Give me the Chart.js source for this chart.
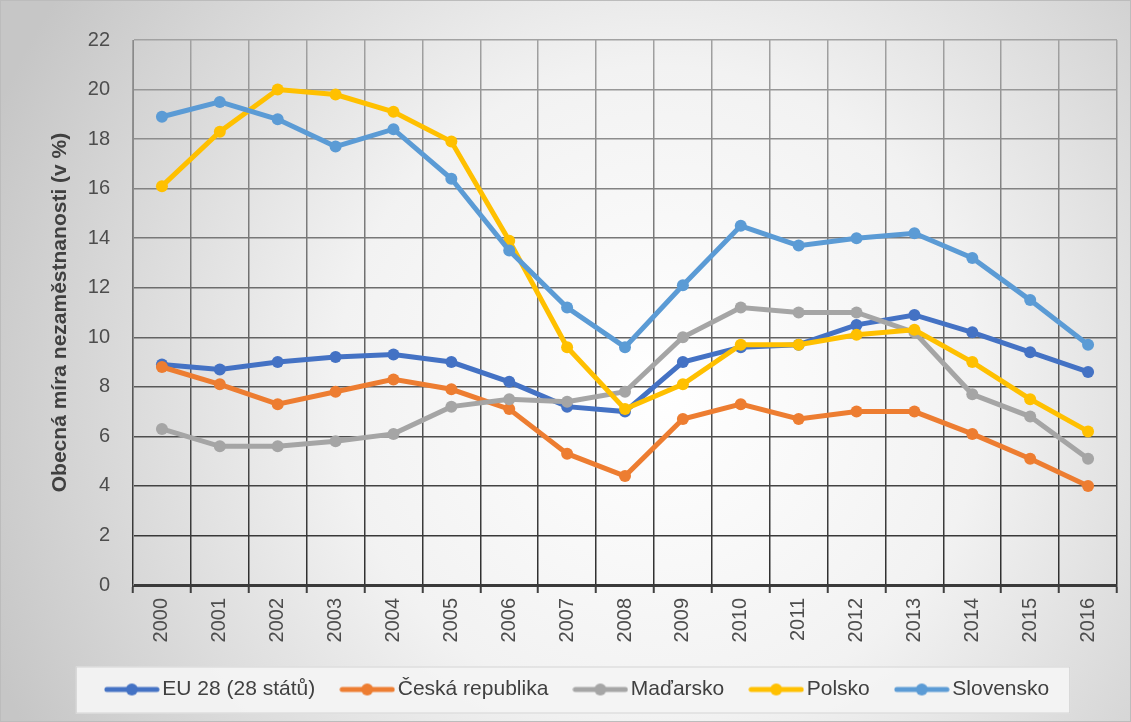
<!DOCTYPE html>
<html>
<head>
<meta charset="utf-8">
<script src="https://cdn.jsdelivr.net/npm/chart.js@4.4.1/dist/chart.umd.min.js"></script>
<style>
  html, body { margin: 0; padding: 0; background: #fff; }
  #c { display: block; }
</style>
</head>
<body>
<canvas id="c" width="1131" height="722"></canvas>
<script>
// years on the x axis
var years = ['2000', '2001', '2002', '2003', '2004', '2005', '2006', '2007', '2008',
  '2009', '2010', '2011', '2012', '2013', '2014', '2015', '2016'];

// unemployment rate, %
var eu28     = [8.9, 8.7, 9.0, 9.2, 9.3, 9.0, 8.2, 7.2, 7.0, 9.0, 9.6, 9.7, 10.5, 10.9, 10.2, 9.4, 8.6];
var cesko    = [8.8, 8.1, 7.3, 7.8, 8.3, 7.9, 7.1, 5.3, 4.4, 6.7, 7.3, 6.7, 7.0, 7.0, 6.1, 5.1, 4.0];
var madarsko = [6.3, 5.6, 5.6, 5.8, 6.1, 7.2, 7.5, 7.4, 7.8, 10.0, 11.2, 11.0, 11.0, 10.2, 7.7, 6.8, 5.1];
var polsko   = [16.1, 18.3, 20.0, 19.8, 19.1, 17.9, 13.9, 9.6, 7.1, 8.1, 9.7, 9.7, 10.1, 10.3, 9.0, 7.5, 6.2];
var slovensko = [18.9, 19.5, 18.8, 17.7, 18.4, 16.4, 13.5, 11.2, 9.6, 12.1, 14.5, 13.7, 14.0, 14.2, 13.2, 11.5, 9.7];

var seriesNames = ['EU 28 (28 států)', 'Česká republika', 'Maďarsko', 'Polsko', 'Slovensko'];
var seriesData = [eu28, cesko, madarsko, polsko, slovensko];
var seriesColors = ['#4472C4', '#ED7D31', '#A5A5A5', '#FFC000', '#5B9BD5'];

var yTitle = 'Obecná míra nezaměstnanosti (v %)';

// little line + dot picture for the legend
function legendIcon(color) {
  var cv = document.createElement('canvas');
  cv.width = 56;
  cv.height = 14;
  var g = cv.getContext('2d');
  g.strokeStyle = color;
  g.lineWidth = 5;
  g.lineCap = 'round';
  g.beginPath();
  g.moveTo(3, 7);
  g.lineTo(53, 7);
  g.stroke();
  g.fillStyle = color;
  g.beginPath();
  g.arc(28, 7, 6, 0, Math.PI * 2);
  g.fill();
  return cv;
}

// grid gets darker towards the bottom of the plot
function gridShade(ctx) {
  var ca = ctx.chart.chartArea;
  if (!ca) return '#777777';
  var g = ctx.chart.ctx.createLinearGradient(0, ca.top, 0, ca.bottom);
  g.addColorStop(0, '#a2a2a2');
  g.addColorStop(1, '#2e2e2e');
  return g;
}

var datasets = seriesNames.map(function(name, i) {
  return {
    label: name,
    data: seriesData[i],
    borderColor: seriesColors[i],
    backgroundColor: seriesColors[i],
    borderWidth: 5,
    pointRadius: 6,
    pointHoverRadius: 6,
    pointBorderWidth: 0,
    tension: 0,
    order: seriesNames.length - i
  };
});

var backdrop = {
  id: 'backdrop',
  beforeDraw: function(chart) {
    var ctx = chart.ctx, w = chart.width, h = chart.height;
    var grad = ctx.createRadialGradient(660, 390, 0, 660, 390, 720);
    grad.addColorStop(0, '#ffffff');
    grad.addColorStop(0.45, '#f2f2f2');
    grad.addColorStop(1, '#c6c6c6');
    ctx.save();
    ctx.fillStyle = grad;
    ctx.fillRect(0, 0, w, h);
    ctx.strokeStyle = '#bcbcbc';
    ctx.lineWidth = 1;
    ctx.strokeRect(0.5, 0.5, w - 1, h - 1);

    var lg = chart.legend;
    if (lg && lg.legendHitBoxes && lg.legendHitBoxes.length) {
      var boxes = lg.legendHitBoxes;
      var x0 = boxes[0].left - 36;
      var last = boxes[boxes.length - 1];
      var x1 = last.left + last.width + 21;
      var yc = boxes[0].top + boxes[0].height / 2;
      var y0 = yc - 23, y1 = yc + 24;
      ctx.fillStyle = 'rgba(243,243,243,0.95)';
      ctx.fillRect(x0, y0, x1 - x0, y1 - y0);
      ctx.strokeStyle = '#d4d4d4';
      ctx.strokeRect(x0 + 0.5, y0 + 0.5, x1 - x0 - 1, y1 - y0 - 1);
    }
    ctx.restore();
  }
};

new Chart(document.getElementById('c'), {
  type: 'line',
  data: { labels: years, datasets: datasets },
  plugins: [backdrop],
  options: {
    responsive: false,
    animation: false,
    events: [],
    layout: { padding: { top: 40, right: 14, bottom: 12, left: 44 } },
    plugins: {
      tooltip: { enabled: false },
      legend: {
        position: 'bottom',
        labels: {
          usePointStyle: true,
          pointStyleWidth: 40,
          padding: 32,
          color: '#404040',
          font: { family: 'Liberation Sans', size: 21 },
          generateLabels: function(chart) {
            return seriesNames.map(function(name, i) {
              return {
                text: name,
                datasetIndex: i,
                pointStyle: legendIcon(seriesColors[i]),
                fillStyle: seriesColors[i],
                strokeStyle: seriesColors[i],
                lineWidth: 0,
                fontColor: '#404040'
              };
            });
          }
        }
      }
    },
    scales: {
      x: {
        offset: true,
        grid: { offset: true, color: gridShade, lineWidth: 1.5, tickLength: 8, tickColor: '#404040', tickWidth: 2 },
        border: { color: '#3a3a3a', width: 3 },
        ticks: {
          minRotation: 90, maxRotation: 90,
          color: '#4d4d4d',
          padding: 5,
          font: { family: 'Liberation Sans', size: 20 }
        },
        afterFit: function(s) { s.height = 62; }
      },
      y: {
        min: 0, max: 22,
        grid: { color: gridShade, lineWidth: 1.5, drawTicks: false },
        border: { color: '#8a8a8a', width: 1 },
        ticks: {
          stepSize: 2,
          color: '#4d4d4d',
          padding: 23,
          font: { family: 'Liberation Sans', size: 20 }
        },
        title: {
          display: true,
          text: yTitle,
          color: '#404040',
          padding: { top: 4, bottom: 0 },
          font: { family: 'Liberation Sans', size: 21, weight: 'bold' }
        },
        afterFit: function(s) { s.width = 89; }
      }
    }
  }
});
</script>
</body>
</html>
